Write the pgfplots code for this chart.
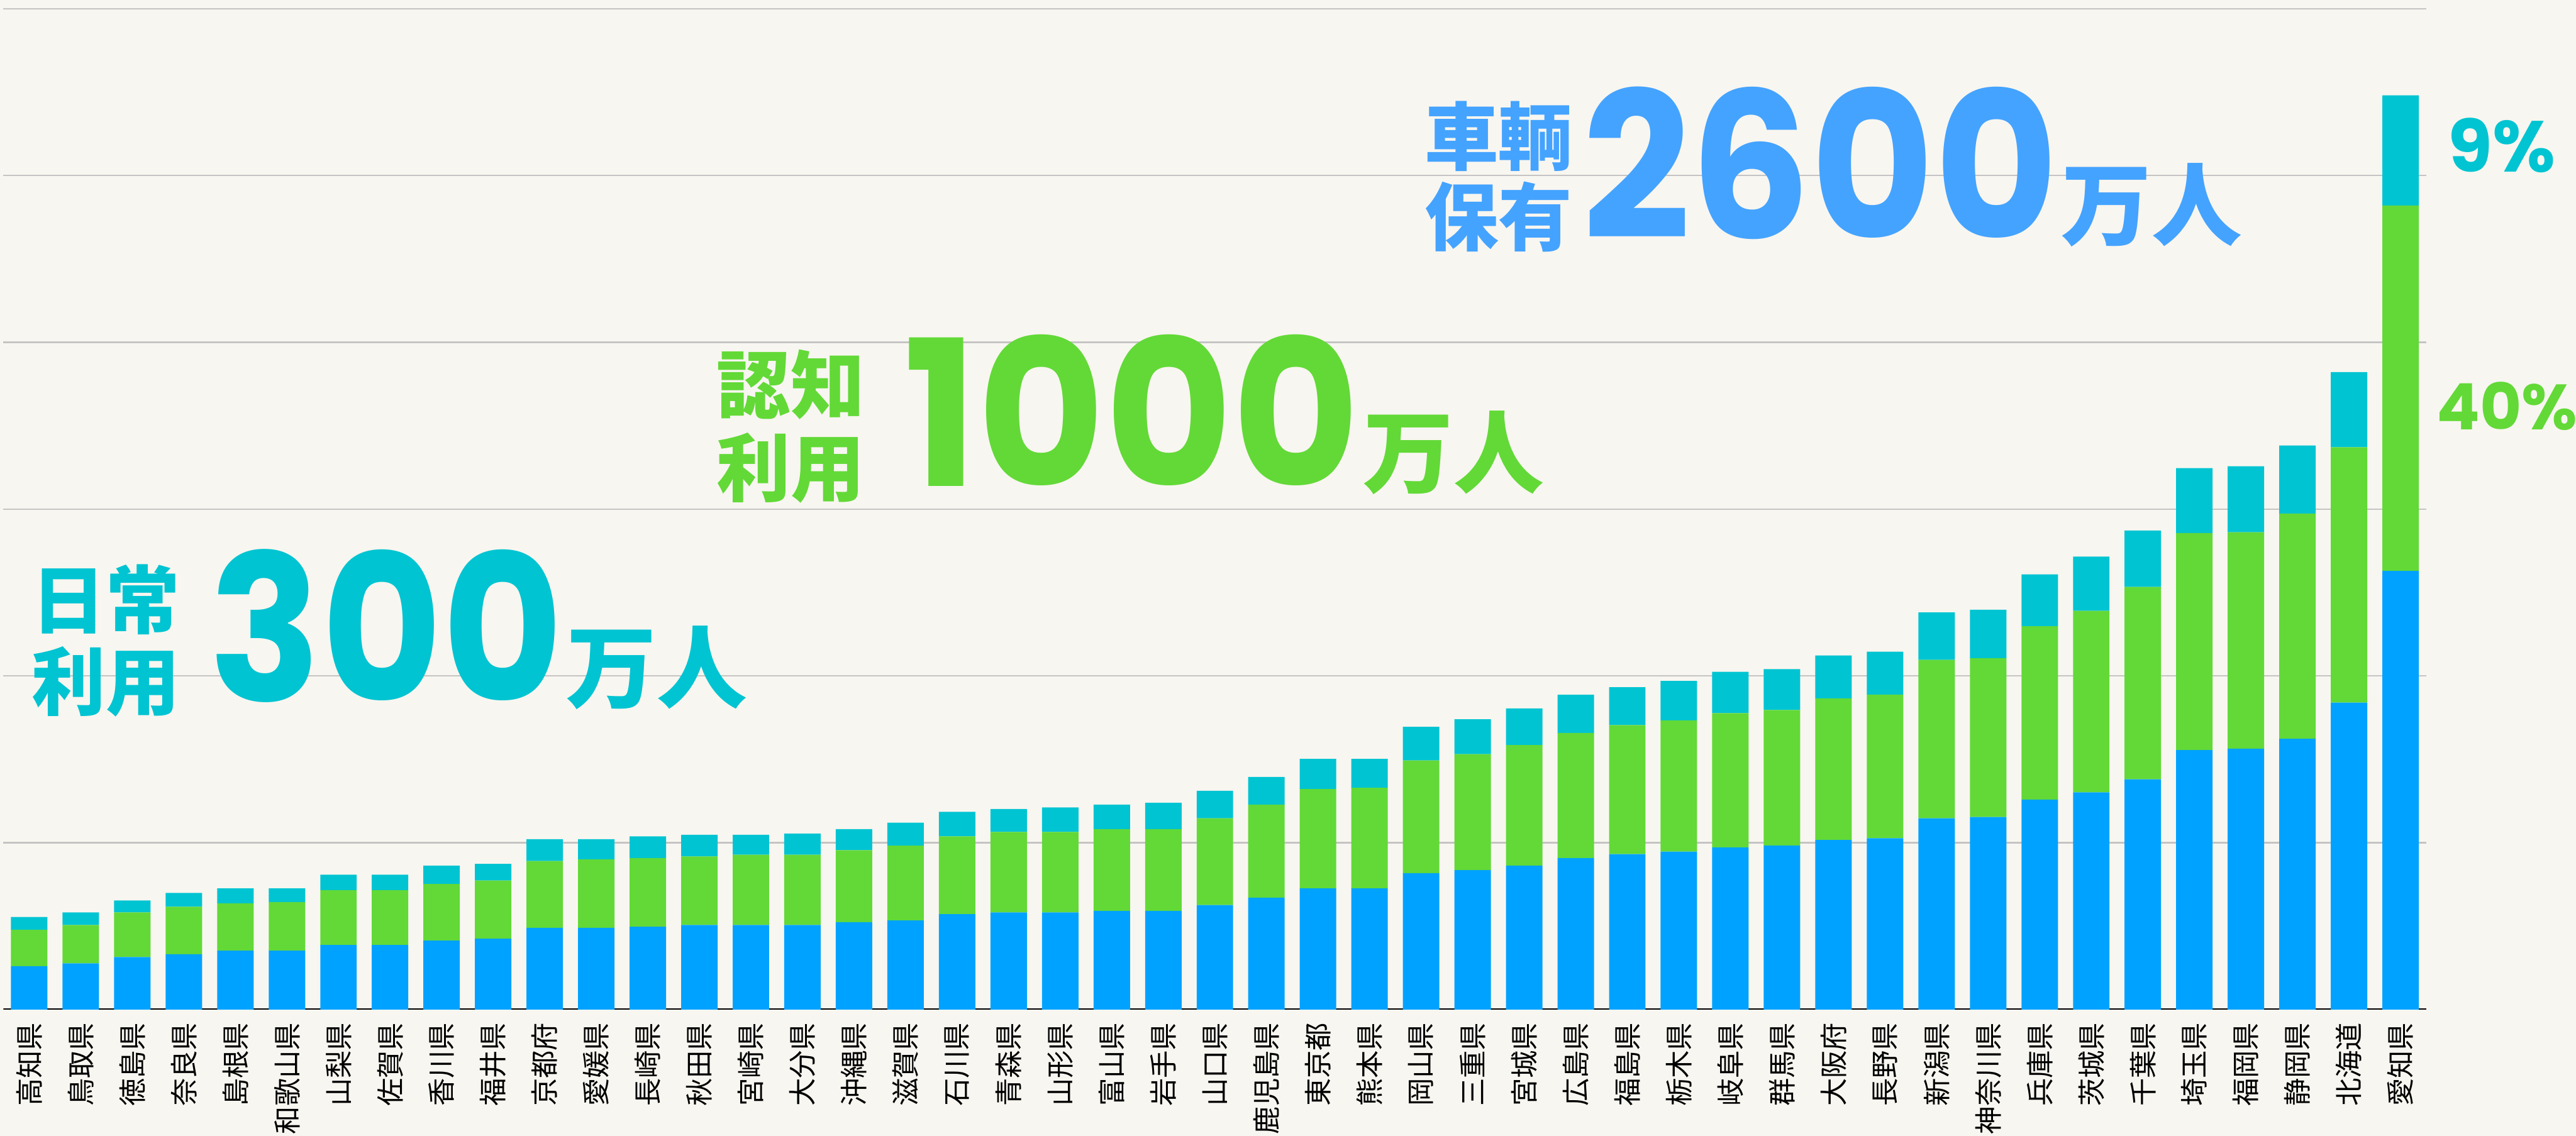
\documentclass[border=0pt]{standalone}
\usepackage{fontspec}
\usepackage{graphicx}
\usepackage{pgfplots}
\usepackage{pgfplotstable}
\pgfplotsset{compat=1.18}
\newfontfamily\cjk{Noto Sans CJK JP}
\newfontfamily\num{Poppins}
\definecolor{bg}{HTML}{F8F6F0}
\definecolor{cblue}{HTML}{00A2FF}
\definecolor{cgreen}{HTML}{62D937}
\definecolor{ccyan}{HTML}{00C4D2}
\definecolor{tblue}{HTML}{44A3FF}
\definecolor{gridc}{HTML}{C4C4C4}

\pgfplotstableread{
idx b g c
0 26.0 21.9 7.6
1 27.7 23.0 7.5
2 31.5 26.7 7.2
3 33.2 28.4 8.3
4 35.3 28.4 8.9
5 35.3 29.1 8.2
6 38.7 32.9 9.2
7 38.7 32.9 9.2
8 41.4 33.9 11.0
9 42.5 34.9 9.9
10 49.0 40.0 13.1
11 49.0 41.1 12.0
12 49.7 41.1 13.0
13 50.7 41.1 13.0
14 50.7 42.1 12.0
15 50.7 42.1 12.7
16 52.4 43.1 12.7
17 53.4 44.9 13.7
18 57.2 46.6 14.7
19 58.2 48.3 13.7
20 58.2 48.3 14.7
21 59.2 49.0 14.7
22 59.2 49.0 15.8
23 62.7 52.0 16.5
24 67.1 55.8 16.5
25 72.6 59.6 18.1
26 72.6 60.3 17.4
27 81.8 67.5 20.2
28 83.6 69.5 20.9
29 86.3 72.3 21.9
30 90.8 75.0 22.9
31 93.2 77.3 22.7
32 94.7 78.7 23.6
33 97.2 80.5 24.8
34 98.4 81.2 24.5
35 101.7 84.9 25.7
36 102.7 86.1 25.7
37 114.7 94.9 28.5
38 115.4 95.3 29.0
39 125.9 103.9 31.1
40 130.2 108.8 32.5
41 138.0 115.4 33.8
42 155.6 130.1 38.9
43 156.4 129.7 39.6
44 162.3 135.1 40.8
45 184.0 153.1 45.1
46 263.0 219.0 66.1
}\data

\begin{document}
\begin{tikzpicture}
\path[use as bounding box] (0,0) rectangle (784.2pt,345.9pt);
\clip (0,0) rectangle (784.2pt,345.9pt);
\fill[bg] (0,0) rectangle (784.2pt,345.9pt);
\begin{axis}[
  at={(1.04pt,38.45pt)}, anchor=south west,
  scale only axis, width=737.6pt, height=304.8pt,
  xmin=-0.5, xmax=46.5, ymin=0, ymax=600,
  ybar stacked, bar width=11.1pt,
  axis x line*=bottom, axis y line*=left,
  x axis line style={draw=none},
  y axis line style={draw=none},
  ytick={100,200,300,400,500,600}, yticklabels={},
  ymajorgrids, major grid style={gridc, line width=0.4pt},
  major tick length=0pt,
  xtick={0,...,46},
  xticklabels={高知県,鳥取県,徳島県,奈良県,島根県,和歌山県,山梨県,佐賀県,香川県,福井県,京都府,愛媛県,長崎県,秋田県,宮崎県,大分県,沖縄県,滋賀県,石川県,青森県,山形県,富山県,岩手県,山口県,鹿児島県,東京都,熊本県,岡山県,三重県,宮城県,広島県,福島県,栃木県,岐阜県,群馬県,大阪府,長野県,新潟県,神奈川県,兵庫県,茨城県,千葉県,埼玉県,福岡県,静岡県,北海道,愛知県},
  xticklabel style={font=\cjk\fontsize{8.5}{8.5}\selectfont, rotate=90, anchor=east, inner sep=0pt, text=black},
  xticklabel shift=3.8pt,
]
\addplot[fill=cblue, draw=none] table[x=idx,y=b]{\data};
\addplot[fill=cgreen, draw=none] table[x=idx,y=g]{\data};
\addplot[fill=ccyan, draw=none] table[x=idx,y=c]{\data};
\draw[black, line width=0.8pt] (axis cs:-0.5,0) -- (axis cs:46.5,0);
\end{axis}

% group 1: cyan
\node[anchor=base west, inner sep=0pt, text=ccyan, font=\cjk\bfseries\fontsize{22.5}{22.5}\selectfont] at (9.5pt,154.75pt) {日常};
\node[anchor=base west, inner sep=0pt, text=ccyan, font=\cjk\bfseries\fontsize{22.5}{22.5}\selectfont] at (9.5pt,129.75pt) {利用};
\node[anchor=base west, inner sep=0pt, text=ccyan] at (63.5pt,132.25pt) {\num\bfseries\fontsize{62}{62}\selectfont \scalebox{0.91}[1]{300}\hspace{1pt}{\cjk\fontsize{27.5}{27.5}\selectfont 万人}};

% group 2: green
\node[anchor=base west, inner sep=0pt, text=cgreen, font=\cjk\bfseries\fontsize{22.5}{22.5}\selectfont] at (218pt,220.25pt) {認知};
\node[anchor=base west, inner sep=0pt, text=cgreen, font=\cjk\bfseries\fontsize{22.5}{22.5}\selectfont] at (218pt,195pt) {利用};
\node[anchor=base west, inner sep=0pt, text=cgreen] at (275pt,197.75pt) {\num\bfseries\fontsize{62}{62}\selectfont \scalebox{0.96}[1]{1000}\hspace{1pt}{\cjk\fontsize{27.5}{27.5}\selectfont 万人}};

% group 3: blue
\node[anchor=base west, inner sep=0pt, text=tblue, font=\cjk\bfseries\fontsize{22.5}{22.5}\selectfont] at (433.5pt,295.75pt) {車輌};
\node[anchor=base west, inner sep=0pt, text=tblue, font=\cjk\bfseries\fontsize{22.5}{22.5}\selectfont] at (433.5pt,271.25pt) {保有};
\node[anchor=base west, inner sep=0pt, text=tblue] at (481.5pt,273.25pt) {\num\bfseries\fontsize{62}{62}\selectfont \scalebox{0.93}[1]{2600}\hspace{1pt}{\cjk\fontsize{27.5}{27.5}\selectfont 万人}};

% percentages
\node[anchor=base west, inner sep=0pt, text=ccyan, font=\num\bfseries\fontsize{22}{22}\selectfont] at (745pt,293.5pt) {9\%};
\node[anchor=base west, inner sep=0pt, text=cgreen, font=\num\bfseries\fontsize{19.5}{19.5}\selectfont] at (741.5pt,215pt) {40\%};
\end{tikzpicture}
\end{document}
